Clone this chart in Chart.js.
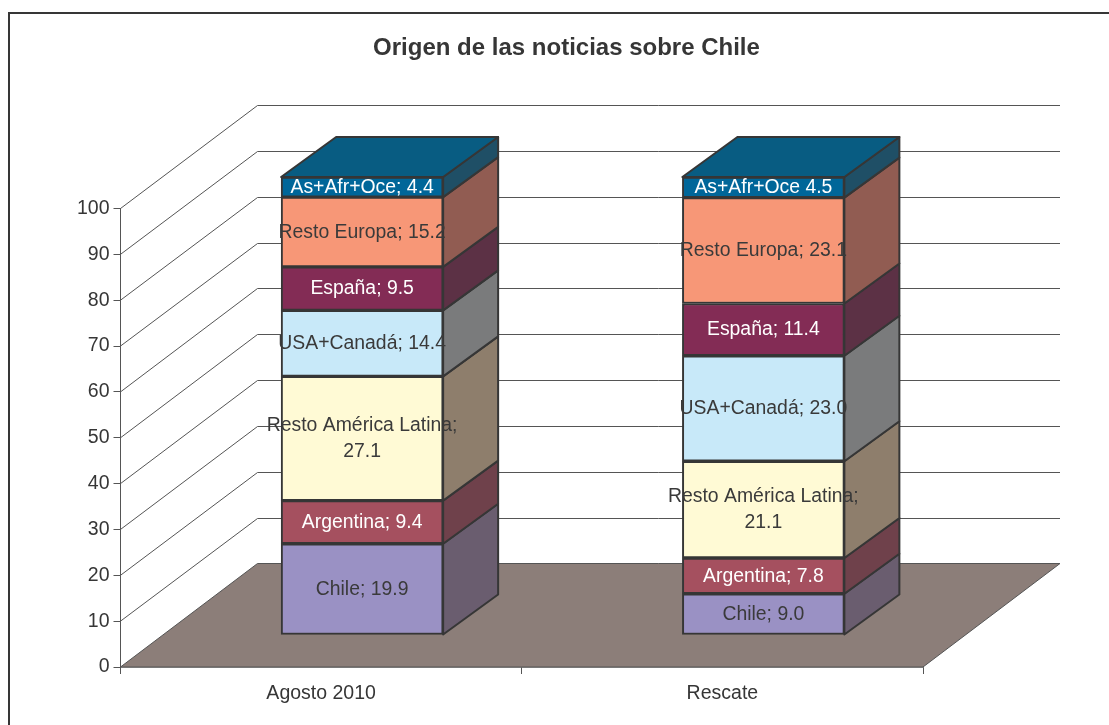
<!DOCTYPE html>
<html><head><meta charset="utf-8">
<style>html,body{margin:0;padding:0;background:#fff}canvas{display:block}</style>
<script src="https://cdn.jsdelivr.net/npm/chart.js@4/dist/chart.umd.min.js"></script>
</head><body>
<canvas id="c" width="1109" height="725" style="width:1109px;height:725px"></canvas>
<script>
const categories = ["Agosto 2010", "Rescate"];
const titleText = "Origen de las noticias sobre Chile";
const yTicks = [0,10,20,30,40,50,60,70,80,90,100];
const chile = [19.9, 9.0];
const argentina = [9.4, 7.8];
const restoAL = [27.1, 21.1];
const usaCanada = [14.4, 23.0];
const espana = [9.5, 11.4];
const restoEuropa = [15.2, 23.1];
const asAfrOce = [4.4, 4.5];
const seriesNames = ["Chile","Argentina","Resto América Latina","USA+Canadá","España","Resto Europa","As+Afr+Oce"];
const seriesValues = [chile, argentina, restoAL, usaCanada, espana, restoEuropa, asAfrOce];
const separators = [[";",";"],[";",";"],[";",";"],[";",";"],[";",";"],[";",";"],[";",""]];
const frontColors = ["#9A91C4","#A5505F","#FFFAD5","#C8E9F9","#832C55","#F79777","#006699"];
const sideColors  = ["#6A5D6F","#6F414B","#8E7E6C","#7A7B7C","#5C3145","#915C52","#1F4F66"];
const labelColors = ["#3a3a3a","#ffffff","#3a3a3a","#3a3a3a","#ffffff","#3a3a3a","#ffffff"];
const wrapped = [false,false,true,false,false,false,false];
const FONT = 'Arial, "Liberation Sans", sans-serif';
const INK = "#363636";
const WALL = {dx:137, dy:-103.5};
const BAR = {ox:41, oy:-32, dx:55, dy:-40};

const scene = {
  id:"scene",
  beforeDraw(ch){
    const c = ch.ctx;
    c.save();
    c.fillStyle="#fff"; c.fillRect(0,0,ch.width,ch.height);
    c.strokeStyle=INK; c.lineWidth=2;
    c.beginPath();
    c.moveTo(9,ch.height); c.lineTo(9,13); c.lineTo(ch.width,13);
    c.stroke();
    c.restore();
  },
  beforeDatasetsDraw(ch){
    const c = ch.ctx, y = ch.scales.y, a = ch.chartArea;
    c.save();
    c.lineWidth=1; c.strokeStyle="#555";
    yTicks.forEach(t=>{
      if(t===0) return;
      const p = y.getPixelForValue(t);
      const back = Math.round(p+WALL.dy)+0.5;
      c.beginPath();
      c.moveTo(a.left,p);
      c.lineTo(a.left+WALL.dx,back);
      c.lineTo(a.right+WALL.dx,back);
      c.stroke();
    });
    const p0 = y.getPixelForValue(0);
    c.fillStyle="#8C7E79";
    c.beginPath();
    c.moveTo(a.left,p0);
    c.lineTo(a.left+WALL.dx,p0+WALL.dy);
    c.lineTo(a.right+WALL.dx,p0+WALL.dy);
    c.lineTo(a.right,p0);
    c.closePath(); c.fill(); c.stroke();

    c.lineJoin="round"; c.strokeStyle=INK; c.lineWidth=2;
    ch.data.datasets.forEach((ds,di)=>{
      ch.getDatasetMeta(di).data.forEach(el=>{
        const xr = el.x+el.width/2+BAR.ox, yb = el.base+BAR.oy, yt = el.y+BAR.oy;
        c.fillStyle=sideColors[di];
        c.beginPath();
        c.moveTo(xr,yb); c.lineTo(xr+BAR.dx,yb+BAR.dy); c.lineTo(xr+BAR.dx,yt+BAR.dy); c.lineTo(xr,yt);
        c.closePath(); c.fill(); c.stroke();
      });
    });
    const last = ch.data.datasets.length-1;
    ch.getDatasetMeta(last).data.forEach(el=>{
      const xl = el.x-el.width/2+BAR.ox, xr = el.x+el.width/2+BAR.ox, yt = el.y+BAR.oy;
      c.fillStyle="#085C82";
      c.beginPath();
      c.moveTo(xl,yt); c.lineTo(xl+BAR.dx,yt+BAR.dy); c.lineTo(xr+BAR.dx,yt+BAR.dy); c.lineTo(xr,yt);
      c.closePath(); c.fill(); c.stroke();
    });
    c.restore();
    c.save();
    c.translate(BAR.ox,BAR.oy);
  },
  afterDatasetsDraw(ch){
    const c = ch.ctx;
    c.restore();
    c.save();
    c.font='19.4px '+FONT;
    c.textAlign="center"; c.textBaseline="middle";
    ch.data.datasets.forEach((ds,di)=>{
      ch.getDatasetMeta(di).data.forEach((el,i)=>{
        const cx = el.x+BAR.ox, cy = (el.y+el.base)/2+BAR.oy+0.5;
        const val = ds.data[i].toFixed(1);
        c.fillStyle=labelColors[di];
        const head = seriesNames[di]+separators[di][i];
        if(wrapped[di]){
          c.fillText(head,cx,cy-13);
          c.fillText(val,cx,cy+13);
        } else {
          c.fillText(head+" "+val,cx,cy);
        }
      });
    });
    c.restore();
  }
};

new Chart(document.getElementById("c"),{
  type:"bar",
  data:{
    labels:categories,
    datasets:seriesNames.map((n,i)=>({
      label:n,
      data:seriesValues[i],
      backgroundColor:frontColors[i],
      borderColor:INK,
      borderWidth:2,
      borderSkipped:false,
      barThickness:162,
      clip:false
    }))
  },
  plugins:[scene],
  options:{
    responsive:false,
    animation:false,
    layout:{padding:{left:24,right:0,top:0,bottom:0}},
    plugins:{
      legend:{display:false},
      tooltip:{enabled:false},
      title:{
        display:true,
        text:titleText,
        color:INK,
        font:{family:FONT,size:24,weight:"bold",lineHeight:1.2},
        padding:{top:33.5,bottom:146.2}
      }
    },
    scales:{
      x:{
        stacked:true,
        grid:{drawOnChartArea:false,drawTicks:true,tickLength:7,color:"#555",offset:true},
        border:{color:INK,width:1.5},
        ticks:{color:INK,font:{family:FONT,size:19.5},padding:8,maxRotation:0},
        afterFit(s){s.height=58;}
      },
      y:{
        stacked:true,min:0,max:100,
        grid:{drawOnChartArea:false,drawTicks:true,tickLength:7,color:"#555"},
        border:{color:"#555",width:1},
        ticks:{stepSize:10,color:INK,font:{family:FONT,size:19.5},padding:4},
        afterFit(s){s.width=96.5;}
      },
      rightGutter:{
        position:"right",type:"linear",display:true,
        grid:{display:false},border:{display:false},
        ticks:{display:false},
        afterFit(s){s.width=186;}
      }
    }
  }
});
</script>
</body></html>
